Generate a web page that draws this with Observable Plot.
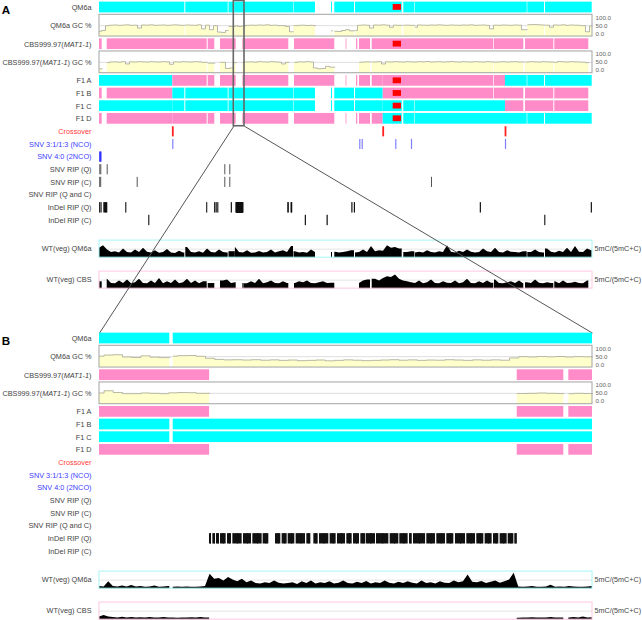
<!DOCTYPE html>
<html><head><meta charset="utf-8">
<script src="https://cdn.jsdelivr.net/npm/d3@7"></script>
<script src="https://cdn.jsdelivr.net/npm/@observablehq/plot@0.6"></script>
<style>
body{margin:0;background:#fff;}
#chart{width:642px;height:620px;position:relative;overflow:hidden;}
#chart svg{display:block;}
</style></head><body><div id="chart"></div>
<script>
const _ = null;
// ================= DATA (positions in kb) =================
const chromosomeLength = 4930;
const zoomWindow = [1343, 1450];

const trackLabels = ["QM6a", "QM6a GC %", "CBS999.97(MAT1-1)", "CBS999.97(MAT1-1) GC %",
  "F1 A", "F1 B", "F1 C", "F1 D", "Crossover", "SNV 3:1/1:3 (NCO)", "SNV 4:0 (2NCO)",
  "SNV RIP (Q)", "SNV RIP (C)", "SNV RIP (Q and C)", "InDel RIP (Q)", "InDel RIP (C)",
  "WT(veg) QM6a", "WT(veg) CBS"];

const qm6aSegments = [[0,853],[863,1287],[1295,1358.26],[1359,1940],[1945,2160],[2320,2330],[2353,2550],
  [2560,3027],[3043,3153],[3158,4277],[4283,4450],[4460,4927]];
const cbsSegments = [[0,27],[77,1077],[1087,1153],[1210,1366.9],[1433.66,1443.77],[1444.86,1893],[1950,2353],
  [2466,2474],[2570,2583],[2600,2710],[2727,3943],[3950,4243],[4260,4543],[4553,4893]];
const centromere = [2937, 3020];

const crossovers = [733, 2837, 4060];
const f1Names = ["F1 A", "F1 B", "F1 C", "F1 D"];
const f1Haplotypes = ["QCCQ", "CQCC", "QQQC", "CCQQ"]; // parent per interval between crossovers

const snvNCO = [733, 2603, 2627, 2963, 3120, 4060];
const snv2NCO = [5, 12];
const snvRipQ = [3, 13, 77, 1253, 1303];
const snvRipC = [2, 12, 377, 1253, 1303, 3320];
const snvRipQC = [];
const indelRipQ = [[0,3],[15,18],[43,83],[262,265],[1071,1074],[1150,1153],[1166,1169],[1182,1185],[1318,1321],
  [1366.87,1367.31],[1367.60,1368.17],[1368.39,1369.04],[1369.26,1370.49],[1370.78,1371.65],[1371.94,1373.96],
  [1374.25,1375.99],[1376.28,1378.30],[1378.52,1379.75],[1381.20,1382.35],[1382.64,1383.73],[1383.95,1385.39],
  [1385.68,1387.71],[1388.00,1388.87],[1389.52,1390.46],[1390.75,1392.77],[1393.06,1394.36],[1394.65,1396.39],
  [1396.68,1397.84],[1398.13,1399.43],[1399.72,1400.73],[1400.88,1402.90],[1403.12,1405.80],[1406.09,1407.97],
  [1408.18,1409.99],[1410.28,1410.86],[1411.15,1413.77],[1414.04,1415.92],[1416.21,1418.09],[1418.38,1419.90],
  [1420.26,1422.44],[1422.72,1424.61],[1424.89,1426.41],[1426.70,1428.22],[1428.51,1429.67],[1429.96,1431.48],
  [1431.70,1432.93],[1433.14,1433.65],
  [1883,1893],[1915,1930],[2523,2527],[2548,2552],[3808,3811],[4918,4921]];
const indelRipC = [[492,495],[2058,2061],[2276,2279],[4452,4455]];

// overview profiles: one value every 40 kb from 0
const overviewStep = 40;
const gcQM6aOverview = [15,20,50,53,54,52,53,55,52,53, 35,54,53,55,52,53,54,52,53,55,
  53,52,54,53,52,55,30,53,25,50, 10,8,20,45,50,45,48,52,53,52,
  54,53,55,52,53,51,50,45,12,50, 52,53,51,52,50,_,_,_,18,15,
  14,20,25,18,20,52,54,53,35,54, 53,55,53,40,53,52,_,53,52,40,
  54,53,52,54,53,55,53,52,54,53, 52,54,53,55,52,53,54,52,30,53,
  52,54,53,52,54,53,25,53,56,57, 55,54,53,40,54,53,55,52,54,53, 52,50,12,48];
const gcCBSOverview = [10,_,48,52,53,51,54,40,53,52, 54,53,52,54,53,52,54,53,38,53,
  52,54,53,52,54,53,50,_,45,_, _,50,12,15,48,_,48,52,53,51,
  54,53,52,54,53,51,40,50,_,50, 53,52,54,52,15,10,12,25,20,_,
  _,_,_,_,_,50,52,53,_,52, 54,40,53,52,54,53,52,54,53,52,
  54,53,55,52,53,54,52,53,55,53, 52,54,53,52,54,53,52,54,53,51,
  53,54,52,53,54,52,53,52,54,53, 52,54,53,52,50,55,53,52,54,53, 52,51,48,_];
const methQM6aOverview = [55,70,45,30,35,28,50,30,27,45, 30,55,32,28,40,26,30,48,27,25,
  38,27,60,30,28,35,26,50,30,28, 45,30,27,35,60,30,28,40,26,28,
  36,27,30,45,28,35,40,30,65,35, 28,30,26,45,30,_,_,_,30,32,
  28,30,35,40,28,30,45,30,65,35, 40,38,70,55,60,50,_,30,35,28,
  32,27,40,30,28,35,30,70,32,28, 38,30,45,32,28,30,50,35,30,55,
  30,28,40,32,30,28,35,75,30,45, 30,28,50,32,28,38,30,55,30,65, 32,30,50,40];
const methCBSOverview = [40,_,55,30,28,45,30,50,28,35, 55,30,28,45,30,60,28,40,30,50,
  28,35,55,30,45,28,40,_,30,_, _,45,50,30,35,_,30,28,40,30,
  55,28,35,45,30,28,40,30,_,30, 40,35,45,30,28,35,40,30,32,_,
  _,_,_,_,_,30,45,50,_,55, 45,60,70,65,80,55,45,40,35,30,
  45,28,35,50,30,28,40,32,30,45, 28,35,55,30,28,40,30,45,32,50,
  30,28,35,40,30,45,28,35,30,50, 32,28,35,30,40,28,45,30,32,38, 30,28,45,_];

// zoom profiles: GC every 2 kb, methylation every 1 kb, from zoomWindow[0]
const zoomGcStep = 2, zoomMethStep = 1;
const gcQM6aZoom = [53,60,62,48,45,55,47,44,53,56, 57,52,40,33,30,31,29,31,28,30,
  27,29,25,27,29,24,27,30,28,25, 27,29,31,28,30,27,29,28,31,29,
  27,30,28,30,28,42,50,48,51,49, 51,48,50,49];
const gcCBSZoom = [52,66,55,48,48,52,50,48,53,55, 54,50,_,_,_,_,_,_,_,_,
  _,_,_,_,_,_,_,_,_,_, _,_,_,_,_,_,_,_,_,_,
  _,_,_,_,_,_,49,50,52,50, 49,48,50,49];
const methQM6aZoom = [12,10,40,12,10,15,10,18,10,12, 8,10,15,8,10,12,9,10,8,10,
  9,8,10,12,85,55,60,45,65,50, 40,55,35,45,30,28,35,30,45,32,
  28,30,35,25,40,30,45,28,35,30, 40,28,32,45,30,28,38,30,42,28,
  35,30,45,32,28,38,30,40,32,28, 45,30,35,28,40,32,30,45,35,40,
  80,38,35,42,30,38,45,32,40,50, 90,10,8,10,12,9,8,10,20,9,
  10,8,12,10,9,8,10,12];
const methCBSZoom = [15,25,15,12,10,14,10,12,9,11, 10,12,9,10,12,9,10,8,10,9,
  11,10,12,9,_,_,_,_,_,_, _,_,_,_,_,_,_,_,_,_,
  _,_,_,_,_,_,_,_,_,_, _,_,_,_,_,_,_,_,_,_,
  _,_,_,_,_,_,_,_,_,_, _,_,_,_,_,_,_,_,_,_,
  _,_,_,_,_,_,_,_,_,_, _,8,10,9,11,10,9,10,12,9,
  10,_,10,12,9,15,10,11];

const gcTickValues = [100, 50, 0];
const methUnitLabel = "5mC/(5mC+C)";

// ================= STYLE / LAYOUT =================
const colors = {Q: "#00ffff", C: "#ff8cc8", centromere: "#ff0000"};
const FONT = "'Liberation Sans', Arial, Helvetica, sans-serif";
const UNIT = 12.65, M_TOP = 1, M_LEFT = 99, M_RIGHT = 50, WIDTH = 642;
const trackKinds = ["bar","gc","bar","gc","bar","bar","bar","bar",
  "event","event","event","event","event","event","event","event","meth","meth"];
const KIND_H = {bar: 1, gc: 1.9, event: 1, meth: 1.35};
const KIND_GAP = {meth: 1.1};
let acc = 0;
const tracks = trackLabels.map((label, k) => {
  const kind = trackKinds[k];
  acc += KIND_GAP[kind] || 0;
  const t = {label, kind, top: acc, h: KIND_H[kind]};
  acc += t.h;
  if (kind === "bar") t.cy = t.top + 0.475;
  else if (kind === "gc") { t.b0 = t.top + 0.05; t.b1 = t.top + t.h - 0.13; t.cy = (t.b0 + t.b1) / 2; }
  else t.cy = t.top + t.h / 2;
  t.color = label === "Crossover" ? "#ff3b3b" : label.startsWith("SNV 3:1") || label.startsWith("SNV 4:0") ? "#3d3dff" : "#444";
  return t;
});
const totalU = acc;
const T = Object.fromEntries(tracks.map(t => [t.label, t]));
const gcY = (t, v) => { const pad = 0.13 * (t.b1 - t.b0); return t.b1 - pad - v / 100 * (t.b1 - t.b0 - 2 * pad); };
const methY = (t, v) => t.top + t.h - v / 100 * t.h;

const clampSegs = (segs, d) => segs.filter(([s, e]) => e > d[0] && s < d[1]).map(([s, e]) => [Math.max(s, d[0]), Math.min(e, d[1])]);

function f1Segments(hap) {
  const bounds = [-Infinity, ...crossovers, Infinity];
  const out = [];
  for (let k = 0; k < hap.length; k++) {
    const src = hap[k] === "Q" ? qm6aSegments : cbsSegments;
    for (const [s, e] of src) {
      const a = Math.max(s, bounds[k]), b = Math.min(e, bounds[k + 1]);
      if (b > a) out.push([a, b, hap[k]]);
    }
  }
  return out;
}

function profile(start, step, values, segs, d, toY, bottom) {
  const pts = []; let id = 0;
  const samples = values.map((v, i) => ({x: start + i * step, v})).filter(p => p.v != null);
  for (const [s, e] of clampSegs(segs, d)) {
    const inside = samples.filter(p => p.x >= s && p.x <= e);
    if (!inside.length) continue;
    const seq = [{x: s, v: inside[0].v}, ...inside, {x: e, v: inside[inside.length - 1].v}];
    for (const p of seq) pts.push({x: p.x, y: toY(p.v), y0: bottom, id});
    id++;
  }
  return pts;
}

function panel(o) {
  const d = o.domain;
  const inD = x => x >= d[0] && x <= d[1];
  const marks = [];
  // bars
  const rects = [];
  const barRow = (t, segs, fill) => clampSegs(segs, d).forEach(([a, b]) => rects.push({x1: a, x2: b, y1: t.top + 0.05, y2: t.top + 0.9, fill}));
  barRow(T["QM6a"], qm6aSegments, colors.Q);
  barRow(T["CBS999.97(MAT1-1)"], cbsSegments, colors.C);
  f1Names.forEach((n, m) => f1Segments(f1Haplotypes[m]).forEach(([a, b, p]) => barRow(T[n], [[a, b]], colors[p])));
  const cen = clampSegs([centromere], d);
  ["QM6a", "CBS999.97(MAT1-1)", ...f1Names].forEach(n => cen.forEach(([a, b]) =>
    rects.push({x1: a, x2: b, y1: T[n].top + 0.24, y2: T[n].top + 0.7, fill: colors.centromere})));
  marks.push(Plot.rect(rects, {x1: "x1", x2: "x2", y1: "y1", y2: "y2", fill: "fill"}));

  // GC tracks
  const gcTracks = [[T["QM6a GC %"], o.gcQ, qm6aSegments], [T["CBS999.97(MAT1-1) GC %"], o.gcC, cbsSegments]];
  for (const [t, vals, segs] of gcTracks) {
    marks.push(Plot.ruleY([50], {y: v => gcY(t, v), x1: () => d[0], x2: () => d[1], stroke: "#dedede", strokeWidth: 1}));
    const pts = profile(d === o.domain && o.zoom ? zoomWindow[0] : 0, o.gcStep, vals, segs, d, v => gcY(t, v), t.b1);
    marks.push(Plot.areaY(pts, {x: "x", y1: "y0", y2: "y", z: "id", fill: "#ffffcc", curve: "step"}));
    marks.push(Plot.line(pts, {x: "x", y: "y", z: "id", stroke: "#9a9a9a", strokeWidth: 0.7, curve: "step"}));
    marks.push(Plot.rect([t], {x1: () => d[0], x2: () => d[1], y1: "b0", y2: "b1", fill: "none", stroke: "#a3a3a3", strokeWidth: 1}));
    marks.push(Plot.text(gcTickValues, {frameAnchor: "right", y: v => gcY(t, v), text: v => v.toFixed(1),
      textAnchor: "start", dx: 3, fontSize: 6.2, fill: "#666"}));
  }

  // methylation tracks
  const methTracks = [[T["WT(veg) QM6a"], o.methQ, qm6aSegments, "#a6f5f5"], [T["WT(veg) CBS"], o.methC, cbsSegments, "#ffc6e2"]];
  for (const [t, vals, segs, border] of methTracks) {
    marks.push(Plot.ruleY([50], {y: v => methY(t, v), x1: () => d[0], x2: () => d[1], stroke: "#e4e4e4", strokeWidth: 1}));
    const pts = profile(o.zoom ? zoomWindow[0] : 0, o.methStep, vals, segs, d, v => methY(t, v), t.top + t.h);
    marks.push(Plot.areaY(pts, {x: "x", y1: "y0", y2: "y", z: "id", fill: "#000", curve: "linear"}));
    marks.push(Plot.rect([t], {x1: () => d[0], x2: () => d[1], y1: "top", y2: r => r.top + r.h, fill: "none", stroke: border, strokeWidth: 1}));
    marks.push(Plot.text([t], {frameAnchor: "right", y: "cy", text: () => methUnitLabel, textAnchor: "start", dx: 2, fontSize: 7.2, fill: "#444"}));
  }

  // point events
  const pointRows = [["Crossover", crossovers, "#ff2020", 1.8], ["SNV 3:1/1:3 (NCO)", snvNCO, "#8080ff", 1.2],
    ["SNV 4:0 (2NCO)", snv2NCO, "#2f2fff", 1.6], ["SNV RIP (Q)", snvRipQ, "#555", 1],
    ["SNV RIP (C)", snvRipC, "#555", 1], ["SNV RIP (Q and C)", snvRipQC, "#555", 1]];
  for (const [n, xs, stroke, sw] of pointRows) {
    const t = T[n];
    marks.push(Plot.ruleX(xs.filter(inD), {x: x => x, y1: () => t.top + 0.1, y2: () => t.top + 0.9, stroke, strokeWidth: sw}));
  }
  // interval events
  for (const [n, ivs] of [["InDel RIP (Q)", indelRipQ], ["InDel RIP (C)", indelRipC]]) {
    const t = T[n];
    const vis = clampSegs(ivs, d);
    marks.push(Plot.rect(vis, {x1: r => r[0], x2: r => r[1], y1: () => t.top + 0.1, y2: () => t.top + 0.92, fill: "#111"}));
    marks.push(Plot.ruleX(vis, {x: r => (r[0] + r[1]) / 2, y1: () => t.top + 0.1, y2: () => t.top + 0.92, stroke: "#111", strokeWidth: 1}));
  }

  // track labels
  marks.push(Plot.text(tracks, {frameAnchor: "left", y: "cy", text: "label", textAnchor: "end", dx: -8, fontSize: 7.3, fill: "color"}));
  // panel letter
  marks.push(Plot.text([o.letter], {frameAnchor: "top-left", text: s => s, lineAnchor: "top", dx: -(M_LEFT - 1.3), dy: 4,
    fontSize: 11.6, fontWeight: "bold", fill: "#000"}));

  // zoom box + connectors
  if (o.showZoom) {
    const rTop = -0.04, rBot = T["F1 D"].top + T["F1 D"].h + 0.06;
    const linkEnd = o.height / UNIT + 0.05;
    marks.push(Plot.rect([zoomWindow], {x1: r => r[0], x2: r => r[1], y1: () => rTop, y2: () => rBot, fill: "none", stroke: "#666", strokeWidth: 1.6}));
    marks.push(Plot.link([[zoomWindow[0], d[0]], [zoomWindow[1], d[1]]], {x1: r => r[0], x2: r => r[1], y1: () => rBot, y2: () => linkEnd,
      stroke: "#555", strokeWidth: 1}));
  }

  const svg = Plot.plot({
    width: WIDTH, height: o.height, marginLeft: M_LEFT, marginRight: M_RIGHT, marginTop: M_TOP, marginBottom: 0,
    x: {domain: d, axis: null},
    y: {domain: [0, totalU], range: [M_TOP, M_TOP + totalU * UNIT], axis: null},
    color: {type: "identity"},
    style: {fontFamily: FONT, overflow: "visible", background: "transparent"},
    marks
  });
  // italic strain designation
  d3.select(svg).selectAll("text").each(function () {
    const s = this.textContent, key = "MAT1-1", k = s.indexOf(key);
    if (k < 0 || this.querySelector("tspan")) return;
    const sel = d3.select(this); sel.text(null);
    sel.append("tspan").text(s.slice(0, k));
    sel.append("tspan").attr("font-style", "italic").text(key);
    sel.append("tspan").text(s.slice(k + key.length));
  });
  return svg;
}

const root = document.getElementById("chart");
root.appendChild(panel({domain: [0, chromosomeLength], letter: "A", height: 331, showZoom: true, zoom: false,
  gcStep: overviewStep, methStep: overviewStep, gcQ: gcQM6aOverview, gcC: gcCBSOverview, methQ: methQM6aOverview, methC: methCBSOverview}));
root.appendChild(panel({domain: zoomWindow, letter: "B", height: 289, showZoom: false, zoom: true,
  gcStep: zoomGcStep, methStep: zoomMethStep, gcQ: gcQM6aZoom, gcC: gcCBSZoom, methQ: methQM6aZoom, methC: methCBSZoom}));
</script></body></html>
